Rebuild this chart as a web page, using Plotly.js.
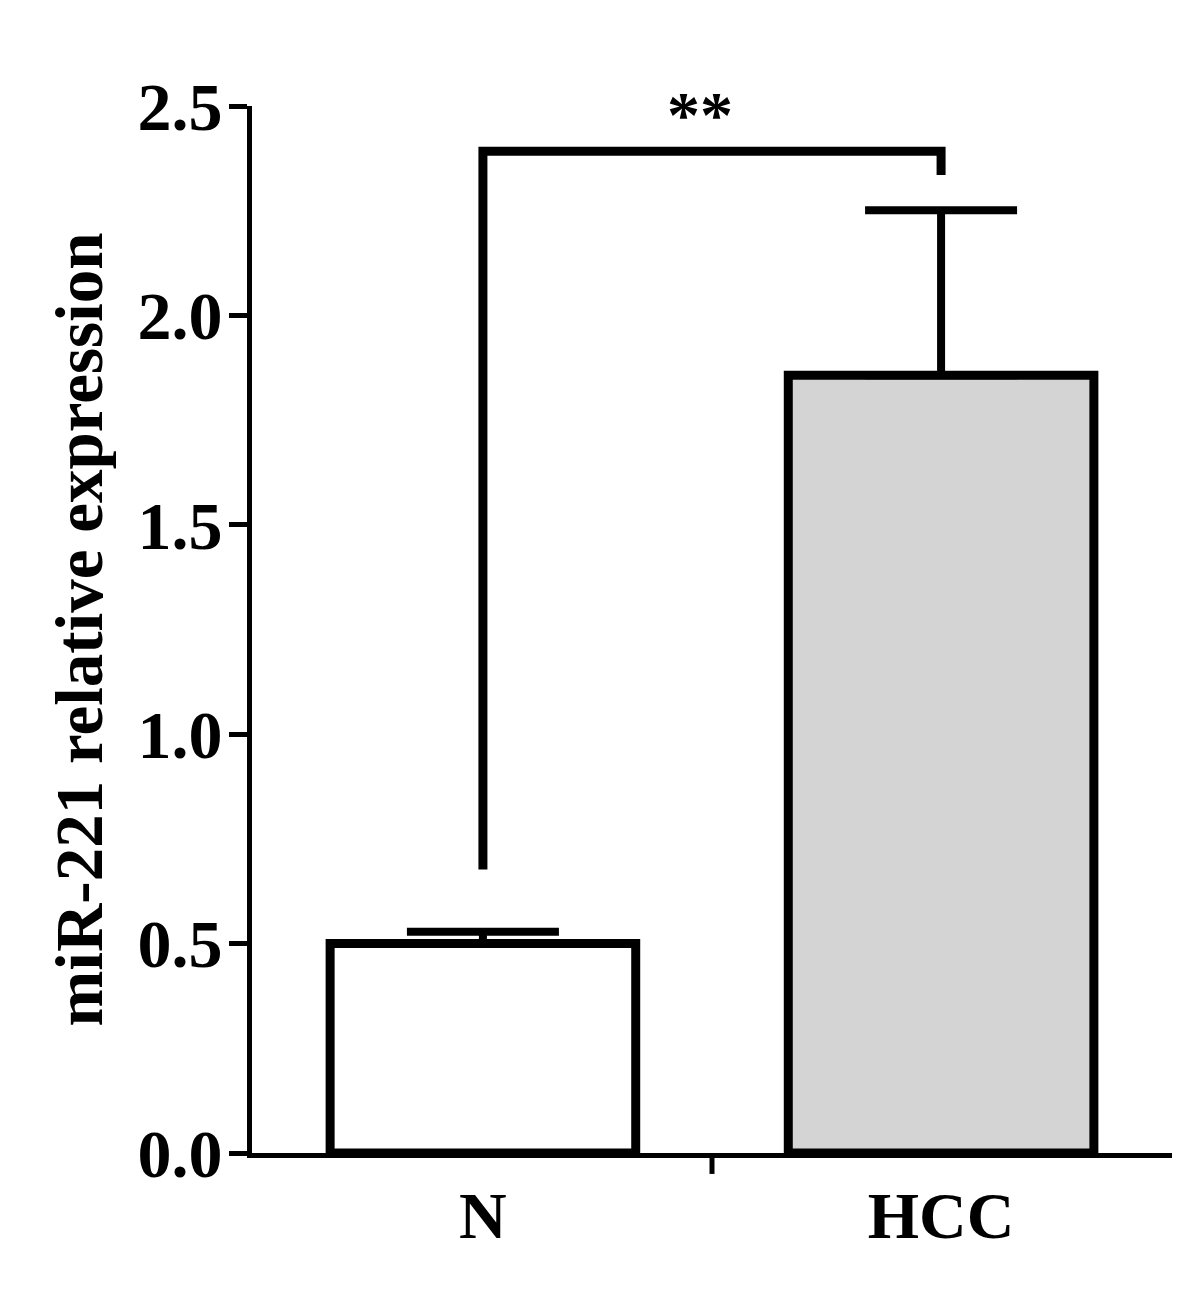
<!DOCTYPE html>
<html>
<head>
<meta charset="utf-8">
<script src="https://cdn.plot.ly/plotly-3.0.1.min.js"></script>
<style>
  html, body { margin: 0; padding: 0; background: #fff; }
  #chart { width: 1200px; height: 1298px; }
</style>
</head>
<body>
<div id="chart"></div>
<script>
// datos
const groups = ['N', 'HCC'];
const means = [0.50, 1.857];
const sem = [0.028, 0.394];
const barColors = ['#ffffff', '#d4d4d4'];

// barra de significancia N vs HCC
const sigGroups = ['N', 'N', 'HCC', 'HCC'];
const sigY = [0.677, 2.392, 2.392, 2.335];
const sigLabel = '**';

const yTicks = [0, 0.5, 1.0, 1.5, 2.0, 2.5];

const serif = 'Liberation Serif, Times New Roman, serif';

const bars = {
    type: 'bar',
    x: groups,
    y: means,
    width: 0.667,
    marker: {
        color: barColors,
        line: { color: '#000', width: 9 }
    },
    error_y: {
        type: 'data',
        symmetric: false,
        array: sem,
        arrayminus: [0, 0],
        color: '#000',
        thickness: 8,
        width: 76
    },
    hoverinfo: 'x+y'
};

const bracket = {
    type: 'scatter',
    mode: 'lines',
    x: sigGroups,
    y: sigY,
    line: { color: '#000', width: 9 },
    hoverinfo: 'skip'
};

const layout = {
    width: 1200,
    height: 1298,
    margin: { l: 252, r: 28, t: 106, b: 145 },
    paper_bgcolor: '#fff',
    plot_bgcolor: '#fff',
    showlegend: false,
    font: { family: serif, color: '#000' },
    xaxis: {
        type: 'category',
        range: [-0.504, 1.504],
        showline: true,
        linecolor: '#000',
        linewidth: 5,
        ticks: '',
        ticklabelstandoff: 1,
        tickfont: { family: serif, size: 66, weight: 'bold', color: '#000' },
        showgrid: false,
        zeroline: false,
        fixedrange: true
    },
    yaxis: {
        range: [0, 2.5],
        tickvals: yTicks,
        ticktext: yTicks.map(v => v.toFixed(1)),
        showline: true,
        linecolor: '#000',
        linewidth: 5,
        ticks: 'outside',
        ticklen: 18,
        tickwidth: 5,
        tickcolor: '#000',
        ticklabelstandoff: -7,
        tickfont: { family: serif, size: 68, weight: 'bold', color: '#000' },
        showgrid: false,
        zeroline: false,
        fixedrange: true,
        title: {
            text: 'miR-221 relative expression',
            font: { family: serif, size: 67, weight: 'bold', color: '#000' },
            standoff: 14
        }
    },
    // marca central del eje x entre los dos grupos
    shapes: [{
        type: 'line',
        xref: 'paper', yref: 'paper',
        x0: 0.5, x1: 0.5, y0: 0, y1: -0.02,
        line: { color: '#000', width: 5 }
    }],
    annotations: [{
        x: 0.487, xref: 'paper',
        y: 0.992, yref: 'paper',
        yanchor: 'middle',
        text: sigLabel,
        showarrow: false,
        font: { family: serif, size: 66, weight: 'bold', color: '#000' }
    }]
};

Plotly.newPlot('chart', [bars, bracket], layout, { displayModeBar: false, staticPlot: true });
</script>
</body>
</html>
